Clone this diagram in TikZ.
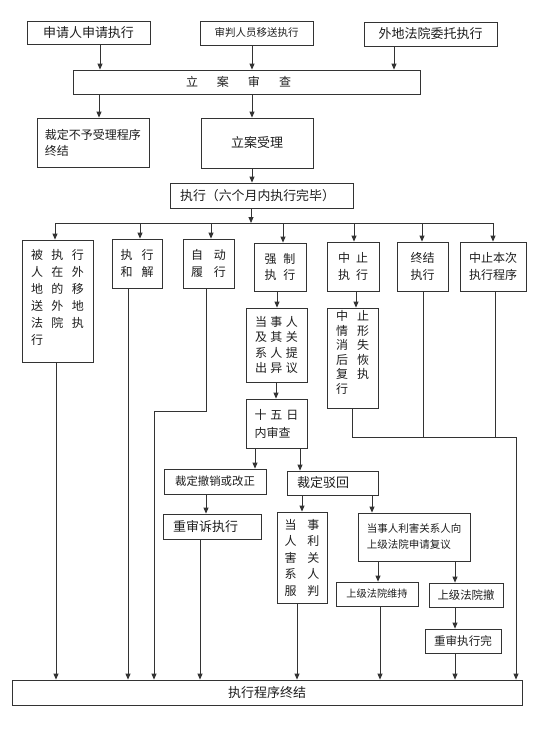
\documentclass[tikz,border=0pt]{standalone}
\usepackage{fontspec}
\setmainfont{Noto Sans CJK SC}
\usetikzlibrary{arrows.meta}
\definecolor{ln}{HTML}{333333}
\definecolor{tx}{HTML}{1E1E1E}
\newcommand\gp[1]{\hspace{#1pt}}
\newcommand\fs[2]{\fontsize{#1}{#2}\selectfont}
\begin{document}
\begin{tikzpicture}[x=1pt,y=-1pt,
  box/.style={draw=ln,line width=0.8pt,inner sep=0pt,text=tx,align=left,fill=white},
  wh/.style 2 args={minimum width=#1pt,minimum height=#2pt},
  conn/.style={draw=ln,line width=0.8pt},
  arr/.style={conn,-{Triangle[length=6pt,width=5pt]}}]
\fill[white] (0,0) rectangle (550,737);
\useasboundingbox (0,0) rectangle (550,737);

% top row
\node[box,wh={123}{23},font=\fs{13}{16}] (app) at (88.5,32.5) {申请人申请执行};
\node[box,wh={113}{24},font=\fs{10.5}{13}] (trans) at (256.5,33) {审判人员移送执行};
\node[box,wh={133}{24},font=\fs{13}{16}] (other) at (430.5,34) {外地法院委托执行};
\node[box,wh={347}{24},font=\fs{12}{15}] (review) at (246.5,82) {立\gp{19}案\gp{19}审\gp{19}查\hspace*{16pt}\null};
\node[box,wh={112}{49},font=\fs{12}{16}] (reject) at (93,142.5) {裁定不予受理程序\\终结};
\node[box,wh={112}{50},font=\fs{13}{16}] (accept) at (257,143) {立案受理};
\node[box,wh={183}{25},font=\fs{12.9}{16}] (exec) at (261.5,195.5) {执行（六个月内执行完毕）\hspace*{8pt}\null};

% branch row
\node[box,wh={71}{122},font=\fs{12}{17}] (b1) at (57.5,301) {被\gp{8.5}执\gp{8.5}行\\人\gp{8.5}在\gp{8.5}外\\地\gp{8.5}的\gp{8.5}移\\送\gp{8.5}外\gp{8.5}地\\法\gp{8.5}院\gp{8.5}执\\行\\[-8pt]\null};
\node[box,wh={50}{49},font=\fs{12}{17}] (b2) at (137,263.5) {执\gp{9}行\\和\gp{9}解};
\node[box,wh={51}{49},font=\fs{12}{17}] (b3) at (208.5,263.5) {自\gp{11}动\\履\gp{11}行};
\node[box,wh={52}{48},font=\fs{12}{16.5}] (b4) at (280,267) {强\gp{7}制\\执\gp{7}行};
\node[box,wh={52}{49},font=\fs{12}{16.5}] (b5) at (353,266.5) {中\gp{6}止\\执\gp{6}行};
\node[box,wh={51}{49},font=\fs{12}{16.5}] (b6) at (422.5,266.5) {终结\\执行};
\node[box,wh={66}{49},font=\fs{12}{16.5}] (b7) at (493,266.5) {中止本次\\执行程序};

% middle
\node[box,wh={61}{74},font=\fs{12}{15.5}] (obj) at (276.5,345) {当\gp{3.5}事\gp{3.5}人\\及\gp{3.5}其\gp{3.5}关\\系\gp{3.5}人\gp{3.5}提\\出\gp{3.5}异\gp{3.5}议};
\node[box,wh={61}{49},font=\fs{12}{18}] (d15) at (276.5,423.5) {十\gp{4}五\gp{4}日\\内审查};
\node[box,wh={51}{100},font=\fs{12}{14.5}] (resume) at (352.5,358) {中\gp{9}止\\情\gp{9}形\\消\gp{9}失\\后\gp{9}恢\\复\gp{9}执\\行\\[-2.5pt]\null};
\node[box,wh={102}{25},font=\fs{11.4}{14}] (revoke) at (215,481.5) {裁定撤销或改正};
\node[box,wh={91}{24},font=\fs{13}{16},text width=71pt] (dismiss) at (332.5,483) {裁定驳回};
\node[box,wh={98}{25},font=\fs{13}{16},text width=78pt] (retrial) at (212,526.5) {重审诉执行};
\node[box,wh={50}{91},font=\fs{12}{16.5}] (accepted) at (302,557.5) {当\gp{11}事\\人\gp{11}利\\害\gp{11}关\\系\gp{11}人\\服\gp{11}判};
\node[box,wh={112}{48},font=\fs{10.5}{16}] (appeal) at (414,537) {当事人利害关系人向\\上级法院申请复议};
\node[box,wh={82}{24},font=\fs{10.2}{13}] (uphold) at (377,594) {上级法院维持};
\node[box,wh={74}{24},font=\fs{11.4}{14}] (overturn) at (466,595) {上级法院撤};
\node[box,wh={76}{24},font=\fs{11.6}{14}] (retrial2) at (463,641) {重审执行完};

% final
\node[box,wh={510}{25},font=\fs{13}{16}] (final) at (267,692.5) {执行程序终结};

% connectors: top
\draw[arr] (app.south -| 100,0) -- (review.north -| 100,0);
\draw[arr] (trans.south -| 252,0) -- (review.north -| 252,0);
\draw[arr] (other.south -| 394,0) -- (review.north -| 394,0);
\draw[arr] (review.south -| 99,0) -- (reject.north -| 99,0);
\draw[arr] (review.south -| 252,0) -- (accept.north -| 252,0);
\draw[arr] (accept.south -| 252,0) -- (exec.north -| 252,0);
\coordinate (bus) at (0,223);
\draw[arr] (exec.south -| 251,0) -- (bus -| 251,0);
\draw[conn] (bus -| 55,0) -- (bus -| 493,0);
\foreach \n/\x in {b1/55,b2/140,b3/211,b4/283,b5/354,b6/422,b7/493}
  \draw[arr] (bus -| \x,0) -- (\n.north -| \x,0);

% middle connectors
\draw[arr] (b4.south -| 277,0) -- (obj.north -| 277,0);
\draw[arr] (obj.south -| 276,0) -- (d15.north -| 276,0);
\draw[arr] (b5.south -| 356,0) -- (resume.north -| 356,0);
\draw[arr] (d15.south -| 255,0) -- (revoke.north -| 255,0);
\draw[arr] (d15.south -| 300,0) -- (dismiss.north -| 300,0);
\draw[arr] (revoke.south -| 206,0) -- (retrial.north -| 206,0);
\draw[arr] (dismiss.south -| 302,0) -- (accepted.north -| 302,0);
\draw[arr] (dismiss.south -| 372,0) -- (appeal.north -| 372,0);
\draw[arr] (appeal.south -| 378,0) -- (uphold.north -| 378,0);
\draw[arr] (appeal.south -| 455,0) -- (overturn.north -| 455,0);
\draw[arr] (overturn.south -| 455,0) -- (retrial2.north -| 455,0);

% to final
\draw[arr] (b1.south -| 56,0) -- (final.north -| 56,0);
\draw[arr] (b2.south -| 128,0) -- (final.north -| 128,0);
\coordinate (k) at (154,411);
\draw[arr] (b3.south -| 206,0) |- (k) -- (final.north -| k);
\draw[arr] (retrial.south -| 200,0) -- (final.north -| 200,0);
\draw[arr] (accepted.south -| 297,0) -- (final.north -| 297,0);
\draw[arr] (uphold.south -| 380,0) -- (final.north -| 380,0);
\draw[arr] (retrial2.south -| 455,0) -- (final.north -| 455,0);
\coordinate (j) at (516,437);
\draw[conn] (resume.south -| 352,0) |- (j);
\draw[arr] (j) -- (final.north -| j);
\draw[conn] (b6.south -| 423,0) -- (j -| 423,0);
\draw[conn] (b7.south -| 495,0) -- (j -| 495,0);
\end{tikzpicture}
\end{document}
